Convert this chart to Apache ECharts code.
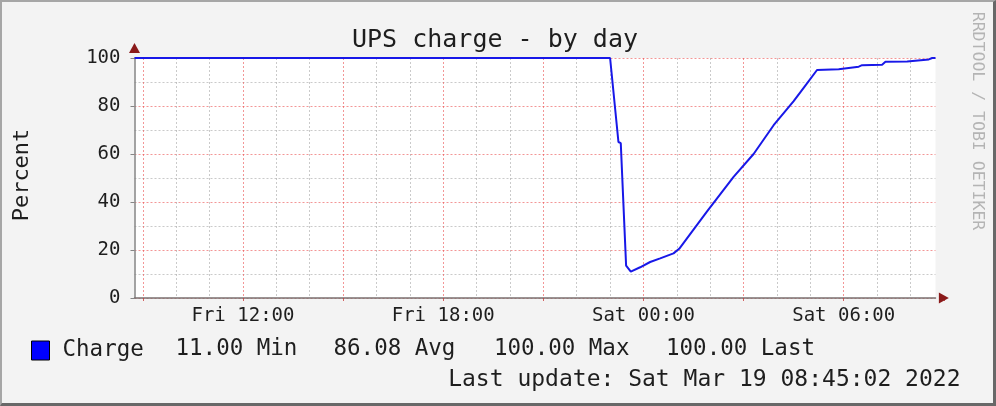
<!DOCTYPE html>
<html>
<head>
<meta charset="utf-8">
<script src="https://cdn.jsdelivr.net/npm/echarts@6/dist/echarts.min.js"></script>
<style>
html,body{margin:0;padding:0;background:#f3f3f3;}
#wrap{position:relative;width:996px;height:406px;overflow:hidden;}
#chart{position:absolute;left:0;top:0;width:996px;height:406px;}
#frame{position:absolute;left:0;top:0;width:996px;height:406px;box-sizing:border-box;
  border-top:2px solid #a6a6a6;border-left:2px solid #a6a6a6;
  border-right:3px solid #686868;border-bottom:3px solid #686868;pointer-events:none;}
</style>
</head>
<body>
<div id="wrap"><div id="chart"></div><div id="frame"></div></div>
<script>
// ---- data ----
const chartTitle = 'UPS charge - by day';
const yAxisName = 'Percent';
const seriesName = 'Charge';
const watermark = 'RRDTOOL / TOBI OETIKER';
const lastUpdate = 'Last update: Sat Mar 19 08:45:02 2022';
// time in hours since Fri 18 Mar 2022 00:00
const rangeStart = 8.75;
const rangeEnd = 32.75;
const timeHours = [8.75, 23.0, 23.25, 23.32, 23.48, 23.62, 23.9, 24.2, 24.5, 24.9, 25.07,
  25.9, 26.7, 27.3, 27.9, 28.5, 28.85, 29.2, 29.85, 29.9, 30.45, 30.55, 31.15, 31.25,
  31.9, 31.95, 32.55, 32.65, 32.75];
const chargeValues = [100, 100, 65, 64.5, 13.5, 11, 12.8, 15, 16.5, 18.6, 20.5,
  36, 50.5, 60, 72, 82, 88.5, 95, 95.3, 96, 96.4, 97, 97.2, 98.4,
  98.5, 99.3, 99.4, 100, 100];
const xTickHours = [12, 18, 24, 30];
const xTickLabels = ['Fri 12:00', 'Fri 18:00', 'Sat 00:00', 'Sat 06:00'];
const yMin = 0, yMax = 100, yStep = 20;
const legendStats = ['11.00 Min', '86.08 Avg', '100.00 Max', '100.00 Last'];

// ---- layout ----
const MONO = '"DejaVu Sans Mono", monospace';
const TXT = '#1e1e1e';
const plotLeft = 134.5, plotTop = 58, plotW = 801, plotH = 240;
const pxPerHour = plotW / (rangeEnd - rangeStart);
const gridStartHour = Math.ceil(rangeStart);          // first full hour (09:00)
const gridEndHour = Math.ceil(rangeEnd);              // 33:00
const grid2Left = plotLeft + (gridStartHour - rangeStart) * pxPerHour;
const grid2W = (gridEndHour - gridStartHour) * pxPerHour;
const statX = [175.5, 333.5, 494, 666];

const chart = echarts.init(document.getElementById('chart'), null, {renderer: 'canvas'});

const lineData = timeHours.map((h, i) => [h, chargeValues[i]]);

const graphics = [
  {type: 'text', x: 495, y: 40, style: {text: chartTitle, font: '25px ' + MONO, fill: TXT,
    align: 'center', verticalAlign: 'middle', textAlign: 'center', textVerticalAlign: 'middle'}},
  {type: 'text', x: 22, y: 175, rotation: Math.PI / 2, style: {text: yAxisName, font: '22px ' + MONO, fill: TXT,
    align: 'center', verticalAlign: 'middle', textAlign: 'center', textVerticalAlign: 'middle'}},
  {type: 'text', x: 977, y: 121, rotation: -Math.PI / 2, style: {text: watermark, font: '16.5px ' + MONO, fill: '#b4b4b4',
    align: 'center', verticalAlign: 'middle', textAlign: 'center', textVerticalAlign: 'middle'}},
  {type: 'text', x: 960.5, y: 380, style: {text: lastUpdate, font: '23px ' + MONO, fill: TXT,
    align: 'right', verticalAlign: 'middle', textAlign: 'right', textVerticalAlign: 'middle'}}
];
legendStats.forEach((s, i) => {
  graphics.push({type: 'text', x: statX[i], y: 349.5, style: {text: s, font: '22.5px ' + MONO, fill: TXT,
    align: 'left', verticalAlign: 'middle', textAlign: 'left', textVerticalAlign: 'middle'}});
});

const majorGrid = 'rgba(235,80,80,0.6)';
const minorGrid = 'rgba(150,150,150,0.5)';

chart.setOption({
  animation: false,
  backgroundColor: '#f3f3f3',
  grid: [
    {left: plotLeft, top: plotTop, width: plotW, height: plotH, show: true, backgroundColor: '#ffffff', borderWidth: 0, containLabel: false},
    {left: grid2Left, top: plotTop, width: grid2W, height: plotH, show: false, containLabel: false}
  ],
  xAxis: [
    {gridIndex: 0, type: 'value', min: rangeStart, max: rangeEnd,
      axisLine: {show: true, lineStyle: {color: '#7a7070', width: 1.5}},
      axisTick: {show: false}, axisLabel: {show: false}, splitLine: {show: false}},
    {gridIndex: 1, type: 'value', min: gridStartHour, max: gridEndHour, interval: 3,
      axisLine: {show: true, onZero: false, symbol: ['none', 'triangle'], symbolSize: [11, 10], symbolOffset: [0, 0],
        lineStyle: {color: '#8a1a1a', width: 0}},
      axisTick: {show: true, length: 3, lineStyle: {color: 'rgba(200,60,60,0.8)'}},
      axisLabel: {show: true, margin: 9, fontFamily: MONO, fontSize: 19, color: TXT,
        formatter: v => { const i = xTickHours.indexOf(v); return i >= 0 ? xTickLabels[i] : ''; }},
      splitLine: {show: true, showMinLine: true, showMaxLine: false, lineStyle: {color: majorGrid, width: 1, type: [2, 2]}},
      minorTick: {show: false, splitNumber: 3},
      minorSplitLine: {show: true, lineStyle: {color: minorGrid, width: 1, type: [2, 2]}}}
  ],
  yAxis: [
    {gridIndex: 0, type: 'value', min: yMin, max: yMax, interval: yStep,
      axisLine: {show: true, lineStyle: {color: '#858585', width: 1.5}},
      axisTick: {show: true, length: 4, lineStyle: {color: '#858585'}},
      axisLabel: {show: true, margin: 14, fontFamily: MONO, fontSize: 19, color: TXT},
      splitLine: {show: true, lineStyle: {color: majorGrid, width: 1, type: [2, 2]}},
      minorTick: {show: false, splitNumber: 2},
      minorSplitLine: {show: true, lineStyle: {color: minorGrid, width: 1, type: [2, 2]}}},
    {gridIndex: 1, type: 'value', min: yMin, max: yMax, offset: grid2Left - plotLeft,
      axisLine: {show: true, symbol: ['none', 'triangle'], symbolSize: [11, 10], symbolOffset: [0, 10],
        lineStyle: {color: '#8a1a1a', width: 0}},
      axisTick: {show: false}, axisLabel: {show: false}, splitLine: {show: false}}
  ],
  legend: {
    show: true, left: 31, top: 339, padding: 0, icon: 'rect', itemWidth: 18, itemHeight: 19,
    data: [seriesName], selectedMode: false,
    itemStyle: {color: '#0000ff', borderColor: '#000000', borderWidth: 1},
    textStyle: {fontFamily: MONO, fontSize: 22.5, color: TXT, padding: [0, 0, 0, 8]}
  },
  series: [{
    name: seriesName, type: 'line', xAxisIndex: 0, yAxisIndex: 0,
    data: lineData, showSymbol: false, symbol: 'none', z: 5,
    lineStyle: {color: '#1818e8', width: 2}, itemStyle: {color: '#0000ff'}
  }],
  graphic: graphics
});
</script>
</body>
</html>
